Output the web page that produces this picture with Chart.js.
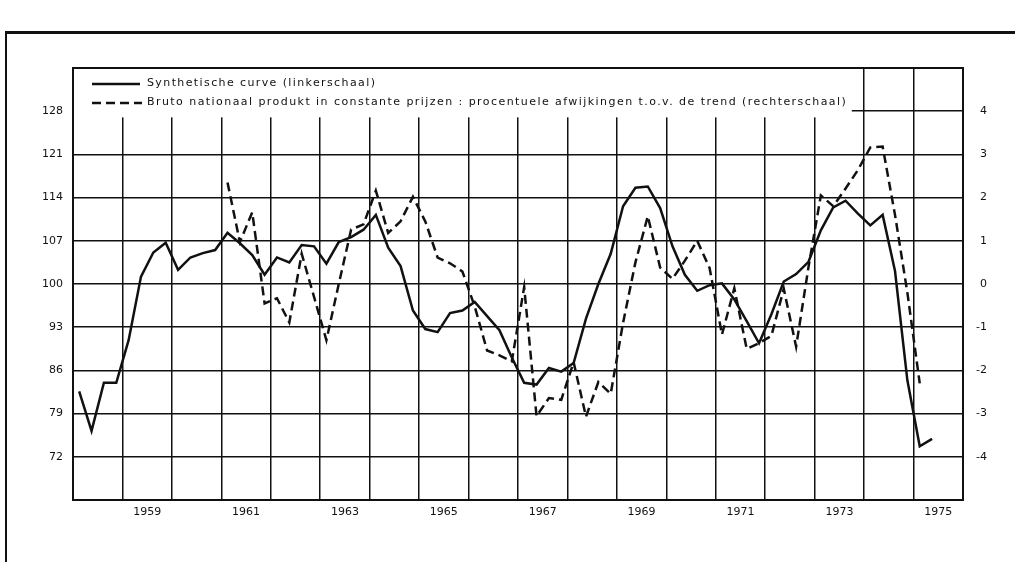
<!DOCTYPE html>
<html>
<head>
<meta charset="utf-8">
<script src="https://cdn.jsdelivr.net/npm/chart.js@4.4.1/dist/chart.umd.min.js"></script>
<style>
  html, body { margin: 0; padding: 0; background: #fff; }
  canvas { display: block; }
</style>
</head>
<body>
<canvas id="myChart" width="1015" height="562"></canvas>
<script>
// kwartaalcijfers, eerste kwartaal = 1958-I
const firstYear = 1958;
const tickYears = [1959, 1961, 1963, 1965, 1967, 1969, 1971, 1973, 1975];
const leftTicks = [72, 79, 86, 93, 100, 107, 114, 121, 128];
const rightTicks = [-4, -3, -2, -1, 0, 1, 2, 3, 4];

// synthetische curve (linkerschaal), 1958-I t/m 1975-II
const synthetic = [
  82.6, 76.2, 84.0, 84.0, 90.9, 101.2, 105.1, 106.7,
  102.3, 104.3, 105.0, 105.5, 108.3, 106.6, 104.7, 101.5,
  104.3, 103.5, 106.3, 106.1, 103.3, 106.8, 107.6, 108.8,
  111.2, 105.9, 102.9, 95.7, 92.7, 92.2, 95.3, 95.7,
  97.1, 94.8, 92.5, 88.1, 84.0, 83.7, 86.4, 85.8,
  87.2, 94.4, 100.0, 104.9, 112.6, 115.6, 115.8, 112.3,
  106.1, 101.5, 98.9, 99.8, 100.1, 97.5, 94.0, 90.4,
  95.1, 100.4, 101.6, 103.6, 108.7, 112.4, 113.5, 111.4,
  109.5, 111.2, 102.1, 84.4, 73.7, 74.9
];

// BNP, procentuele afwijking t.o.v. de trend (rechterschaal), vanaf 1961-I
const bnpFirstQuarter = 12;
const bnp = [
  2.35, 0.97, 1.66, -0.45, -0.33, -0.89, 0.70, -0.30,
  -1.30, 0.00, 1.26, 1.38, 2.16, 1.18, 1.45, 2.02,
  1.45, 0.61, 0.48, 0.29, -0.52, -1.54, -1.65, -1.79,
  -0.07, -3.06, -2.64, -2.68, -1.81, -3.07, -2.27, -2.54,
  -0.90, 0.50, 1.57, 0.38, 0.12, 0.54, 1.00, 0.37,
  -1.17, -0.10, -1.50, -1.37, -1.20, -0.11, -1.45, 0.39,
  2.05, 1.80, 2.21, 2.64, 3.16, 3.18, 1.60, -0.20,
  -2.30
];

const legendLabels = [
  "Synthetische curve (linkerschaal)",
  "Bruto nationaal produkt in constante prijzen : procentuele afwijkingen t.o.v. de trend (rechterschaal)"
];

const toPoints = (values, offset) =>
  values.map((v, i) => ({ x: firstYear + (offset + i + 0.5) / 4, y: v }));

const ink = "#111";
const tickFont = { family: "'DejaVu Sans'", size: 11 };

// fits a legend string to a given width by spreading the letters
const fitText = (ctx, text, x, y, width) => {
  ctx.letterSpacing = "0px";
  const w = ctx.measureText(text).width;
  const extra = (width - w) / (text.length - 1);
  ctx.letterSpacing = extra.toFixed(2) + "px";
  ctx.fillText(text, x, y);
  ctx.letterSpacing = "0px";
};

const paper = {
  id: "paper",
  beforeDatasetsDraw(chart) {
    const { ctx, chartArea, scales } = chart;
    const left = chartArea.left, top = chartArea.top;
    const boxRight = scales.x.getPixelForValue(1973.75);
    const boxBottom = scales.y.getPixelForValue(127);

    ctx.save();
    ctx.fillStyle = "#fff";
    ctx.fillRect(left + 1, top + 1, boxRight - left - 1, boxBottom - top - 1);

    ctx.strokeStyle = ink;
    ctx.lineWidth = 2.5;
    ctx.beginPath();
    ctx.moveTo(left + 19, top + 16);
    ctx.lineTo(left + 67, top + 16);
    ctx.stroke();
    ctx.setLineDash([9, 5]);
    ctx.beginPath();
    ctx.moveTo(left + 19, top + 35);
    ctx.lineTo(left + 69, top + 35);
    ctx.stroke();
    ctx.setLineDash([]);

    ctx.fillStyle = ink;
    ctx.font = "11px 'DejaVu Sans'";
    ctx.textBaseline = "middle";
    fitText(ctx, legendLabels[0], left + 74, top + 15, 228);
    fitText(ctx, legendLabels[1], left + 74, top + 34, 699);
    ctx.restore();
  },
  afterDraw(chart) {
    const { ctx } = chart;
    ctx.save();
    ctx.fillStyle = ink;
    ctx.fillRect(5, 31, 1010, 3);
    ctx.fillRect(5, 31, 2, 531);
    ctx.restore();
  }
};

const ctx = document.getElementById("myChart").getContext("2d");

const myChart = new Chart(ctx, {
  type: "line",
  data: {
    datasets: [
      {
        label: legendLabels[0],
        data: toPoints(synthetic, 0),
        yAxisID: "y",
        borderColor: ink,
        borderWidth: 2.5,
        pointRadius: 0,
        fill: false,
        tension: 0,
      },
      {
        label: legendLabels[1],
        data: toPoints(bnp, bnpFirstQuarter),
        yAxisID: "y1",
        borderColor: ink,
        borderWidth: 2.5,
        borderDash: [9, 5],
        pointRadius: 0,
        fill: false,
        tension: 0,
      },
    ],
  },
  options: {
    responsive: false,
    animation: false,
    layout: { padding: { top: 68, left: 0, right: 28, bottom: 0 } },
    plugins: {
      legend: { display: false },
      tooltip: { enabled: false },
    },
    scales: {
      x: {
        type: "linear",
        min: 1958,
        max: 1976,
        afterFit: (scale) => { scale.height = 62; },
        grid: {
          drawTicks: false,
          color: (c) => (Number.isInteger(c.tick.value) ? ink : "rgba(0,0,0,0)"),
          lineWidth: (c) => (Number.isInteger(c.tick.value) ? 1.5 : 0),
        },
        border: { display: true, color: ink, width: 2 },
        ticks: {
          stepSize: 0.5,
          autoSkip: false,
          maxRotation: 0,
          padding: 6,
          color: ink,
          font: tickFont,
          callback: (v) => (tickYears.includes(v - 0.5) ? String(v - 0.5) : ""),
        },
      },
      y: {
        position: "left",
        min: 65,
        max: 135,
        afterFit: (scale) => { scale.width = 73; },
        grid: {
          drawTicks: false,
          color: ink,
          lineWidth: (c) => (c.tick.value === 135 ? 2 : 1.5),
        },
        border: { display: true, color: ink, width: 2 },
        ticks: {
          stepSize: 7,
          padding: 10,
          color: ink,
          font: tickFont,
          callback: (v) => (leftTicks.includes(v) ? String(v) : ""),
        },
      },
      y1: {
        position: "right",
        min: -5,
        max: 5,
        afterFit: (scale) => { scale.width = 24; },
        grid: { display: false, drawTicks: false },
        border: { display: true, color: ink, width: 2 },
        ticks: {
          stepSize: 1,
          padding: 4,
          crossAlign: "far",
          color: ink,
          font: tickFont,
          callback: (v) => (rightTicks.includes(v) ? String(v) : ""),
        },
      },
    },
  },
  plugins: [paper],
});
</script>
</body>
</html>
